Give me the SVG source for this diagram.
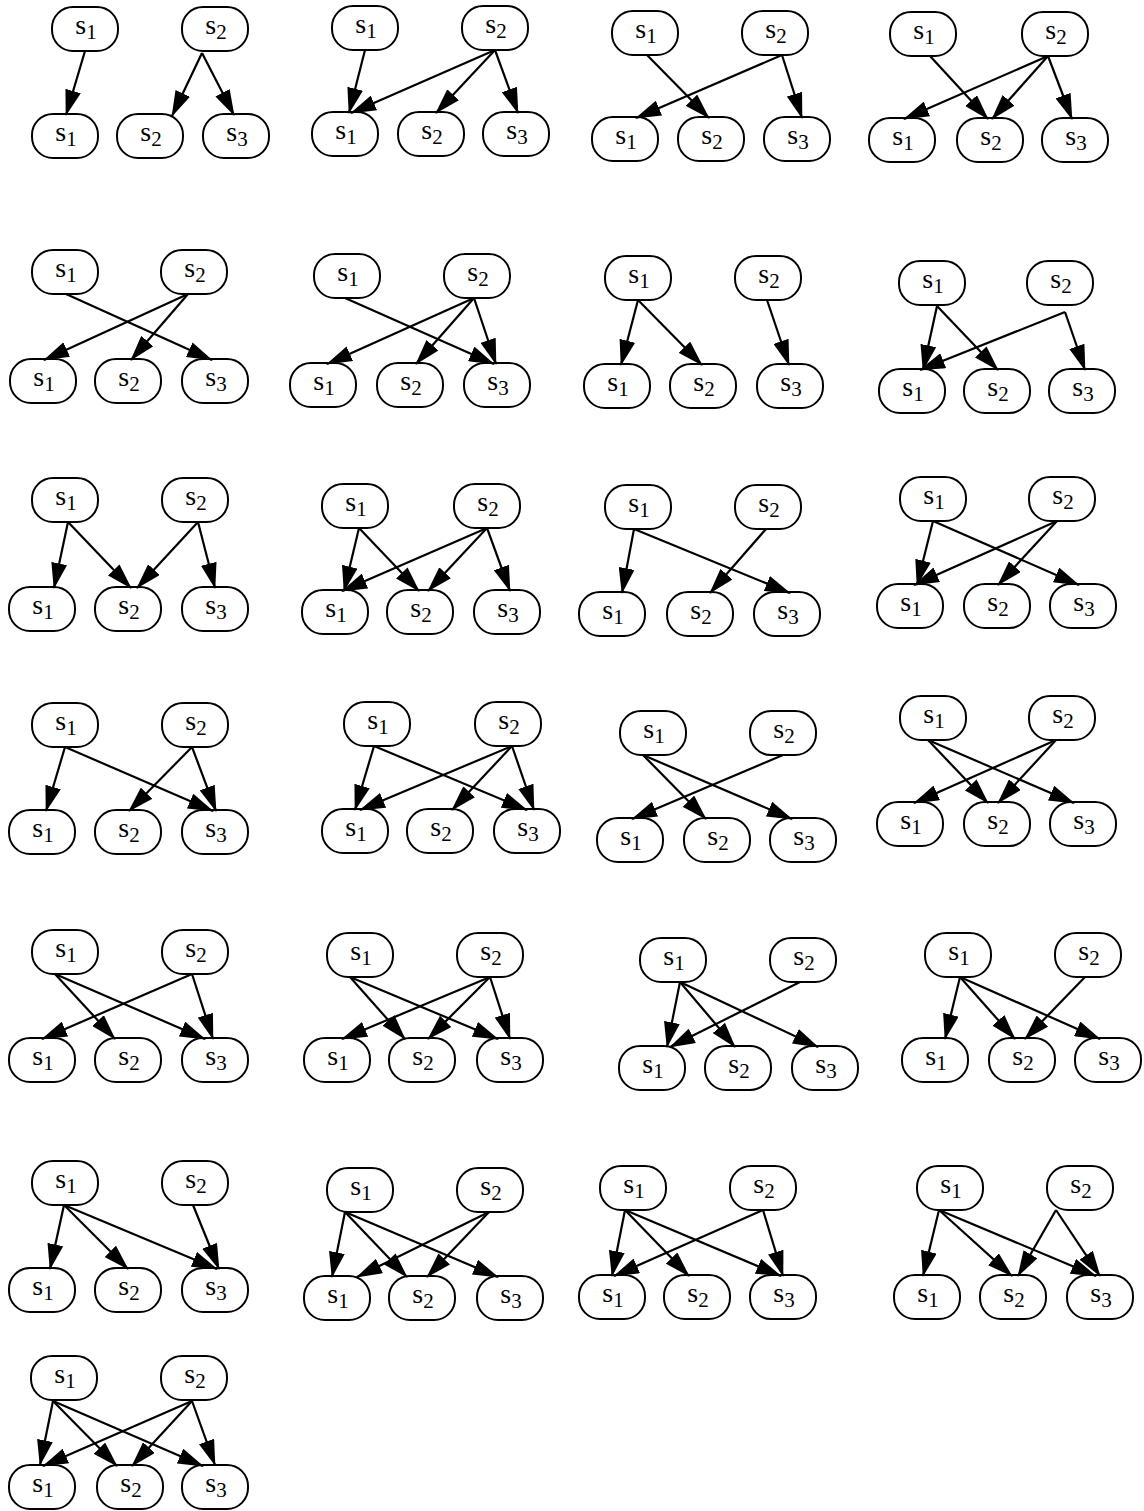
<svg xmlns="http://www.w3.org/2000/svg" width="1144" height="1511" viewBox="0 0 1144 1511">
<style>
.node rect{fill:#fff;stroke:#000;stroke-width:2}
.node text{font-family:"Liberation Serif","Times New Roman",serif;font-size:28px;text-anchor:middle;fill:#000}
.node tspan{font-size:21px}
#connectors line{stroke:#000;stroke-width:2.2;marker-end:url(#ah)}
</style>
<defs>
<marker id="ah" viewBox="0 0 26 16" refX="25" refY="8" markerWidth="26" markerHeight="16" markerUnits="userSpaceOnUse" orient="auto"><path d="M0,0 L26,8 L0,16 z" fill="#000"/></marker>
</defs>
<rect width="1144" height="1511" fill="#fff"/>
<g id="nodes">
<g id="n1-t1" class="node" transform="translate(85,29)"><rect x="-33" y="-22" width="66" height="44" rx="21"/><text x="1" y="5">s<tspan dy="5">1</tspan></text></g>
<g id="n1-t2" class="node" transform="translate(215,29)"><rect x="-33" y="-22" width="66" height="44" rx="21"/><text x="1" y="5">s<tspan dy="5">2</tspan></text></g>
<g id="n1-b1" class="node" transform="translate(65,136)"><rect x="-33" y="-22" width="66" height="44" rx="21"/><text x="1" y="5">s<tspan dy="5">1</tspan></text></g>
<g id="n1-b2" class="node" transform="translate(150,136)"><rect x="-33" y="-22" width="66" height="44" rx="21"/><text x="1" y="5">s<tspan dy="5">2</tspan></text></g>
<g id="n1-b3" class="node" transform="translate(236,136)"><rect x="-33" y="-22" width="66" height="44" rx="21"/><text x="1" y="5">s<tspan dy="5">3</tspan></text></g>

<g id="n2-t1" class="node" transform="translate(365,28)"><rect x="-33" y="-22" width="66" height="44" rx="21"/><text x="1" y="5">s<tspan dy="5">1</tspan></text></g>
<g id="n2-t2" class="node" transform="translate(495,28)"><rect x="-33" y="-22" width="66" height="44" rx="21"/><text x="1" y="5">s<tspan dy="5">2</tspan></text></g>
<g id="n2-b1" class="node" transform="translate(345,134)"><rect x="-33" y="-22" width="66" height="44" rx="21"/><text x="1" y="5">s<tspan dy="5">1</tspan></text></g>
<g id="n2-b2" class="node" transform="translate(431,134)"><rect x="-33" y="-22" width="66" height="44" rx="21"/><text x="1" y="5">s<tspan dy="5">2</tspan></text></g>
<g id="n2-b3" class="node" transform="translate(516,134)"><rect x="-33" y="-22" width="66" height="44" rx="21"/><text x="1" y="5">s<tspan dy="5">3</tspan></text></g>

<g id="n3-t1" class="node" transform="translate(645,33)"><rect x="-33" y="-22" width="66" height="44" rx="21"/><text x="1" y="5">s<tspan dy="5">1</tspan></text></g>
<g id="n3-t2" class="node" transform="translate(775,33)"><rect x="-33" y="-22" width="66" height="44" rx="21"/><text x="1" y="5">s<tspan dy="5">2</tspan></text></g>
<g id="n3-b1" class="node" transform="translate(625,139)"><rect x="-33" y="-22" width="66" height="44" rx="21"/><text x="1" y="5">s<tspan dy="5">1</tspan></text></g>
<g id="n3-b2" class="node" transform="translate(711,139)"><rect x="-33" y="-22" width="66" height="44" rx="21"/><text x="1" y="5">s<tspan dy="5">2</tspan></text></g>
<g id="n3-b3" class="node" transform="translate(797,139)"><rect x="-33" y="-22" width="66" height="44" rx="21"/><text x="1" y="5">s<tspan dy="5">3</tspan></text></g>

<g id="n4-t1" class="node" transform="translate(923,34)"><rect x="-33" y="-22" width="66" height="44" rx="21"/><text x="1" y="5">s<tspan dy="5">1</tspan></text></g>
<g id="n4-t2" class="node" transform="translate(1055,34)"><rect x="-33" y="-22" width="66" height="44" rx="21"/><text x="1" y="5">s<tspan dy="5">2</tspan></text></g>
<g id="n4-b1" class="node" transform="translate(902,140)"><rect x="-33" y="-22" width="66" height="44" rx="21"/><text x="1" y="5">s<tspan dy="5">1</tspan></text></g>
<g id="n4-b2" class="node" transform="translate(990,140)"><rect x="-33" y="-22" width="66" height="44" rx="21"/><text x="1" y="5">s<tspan dy="5">2</tspan></text></g>
<g id="n4-b3" class="node" transform="translate(1075,140)"><rect x="-33" y="-22" width="66" height="44" rx="21"/><text x="1" y="5">s<tspan dy="5">3</tspan></text></g>

<g id="n5-t1" class="node" transform="translate(65,272)"><rect x="-33" y="-22" width="66" height="44" rx="21"/><text x="1" y="5">s<tspan dy="5">1</tspan></text></g>
<g id="n5-t2" class="node" transform="translate(194,272)"><rect x="-33" y="-22" width="66" height="44" rx="21"/><text x="1" y="5">s<tspan dy="5">2</tspan></text></g>
<g id="n5-b1" class="node" transform="translate(43,381)"><rect x="-33" y="-22" width="66" height="44" rx="21"/><text x="1" y="5">s<tspan dy="5">1</tspan></text></g>
<g id="n5-b2" class="node" transform="translate(128,381)"><rect x="-33" y="-22" width="66" height="44" rx="21"/><text x="1" y="5">s<tspan dy="5">2</tspan></text></g>
<g id="n5-b3" class="node" transform="translate(215,381)"><rect x="-33" y="-22" width="66" height="44" rx="21"/><text x="1" y="5">s<tspan dy="5">3</tspan></text></g>

<g id="n6-t1" class="node" transform="translate(347,276)"><rect x="-33" y="-22" width="66" height="44" rx="21"/><text x="1" y="5">s<tspan dy="5">1</tspan></text></g>
<g id="n6-t2" class="node" transform="translate(477,276)"><rect x="-33" y="-22" width="66" height="44" rx="21"/><text x="1" y="5">s<tspan dy="5">2</tspan></text></g>
<g id="n6-b1" class="node" transform="translate(323,385)"><rect x="-33" y="-22" width="66" height="44" rx="21"/><text x="1" y="5">s<tspan dy="5">1</tspan></text></g>
<g id="n6-b2" class="node" transform="translate(410,385)"><rect x="-33" y="-22" width="66" height="44" rx="21"/><text x="1" y="5">s<tspan dy="5">2</tspan></text></g>
<g id="n6-b3" class="node" transform="translate(497,385)"><rect x="-33" y="-22" width="66" height="44" rx="21"/><text x="1" y="5">s<tspan dy="5">3</tspan></text></g>

<g id="n7-t1" class="node" transform="translate(638,278)"><rect x="-33" y="-22" width="66" height="44" rx="21"/><text x="1" y="5">s<tspan dy="5">1</tspan></text></g>
<g id="n7-t2" class="node" transform="translate(768,278)"><rect x="-33" y="-22" width="66" height="44" rx="21"/><text x="1" y="5">s<tspan dy="5">2</tspan></text></g>
<g id="n7-b1" class="node" transform="translate(617,386)"><rect x="-33" y="-22" width="66" height="44" rx="21"/><text x="1" y="5">s<tspan dy="5">1</tspan></text></g>
<g id="n7-b2" class="node" transform="translate(703,386)"><rect x="-33" y="-22" width="66" height="44" rx="21"/><text x="1" y="5">s<tspan dy="5">2</tspan></text></g>
<g id="n7-b3" class="node" transform="translate(790,386)"><rect x="-33" y="-22" width="66" height="44" rx="21"/><text x="1" y="5">s<tspan dy="5">3</tspan></text></g>

<g id="n8-t1" class="node" transform="translate(932,283)"><rect x="-33" y="-22" width="66" height="44" rx="21"/><text x="1" y="5">s<tspan dy="5">1</tspan></text></g>
<g id="n8-t2" class="node" transform="translate(1060,283)"><rect x="-33" y="-22" width="66" height="44" rx="21"/><text x="1" y="5">s<tspan dy="5">2</tspan></text></g>
<g id="n8-b1" class="node" transform="translate(912,391)"><rect x="-33" y="-22" width="66" height="44" rx="21"/><text x="1" y="5">s<tspan dy="5">1</tspan></text></g>
<g id="n8-b2" class="node" transform="translate(997,391)"><rect x="-33" y="-22" width="66" height="44" rx="21"/><text x="1" y="5">s<tspan dy="5">2</tspan></text></g>
<g id="n8-b3" class="node" transform="translate(1082,391)"><rect x="-33" y="-22" width="66" height="44" rx="21"/><text x="1" y="5">s<tspan dy="5">3</tspan></text></g>

<g id="n9-t1" class="node" transform="translate(65,500)"><rect x="-33" y="-22" width="66" height="44" rx="21"/><text x="1" y="5">s<tspan dy="5">1</tspan></text></g>
<g id="n9-t2" class="node" transform="translate(195,500)"><rect x="-33" y="-22" width="66" height="44" rx="21"/><text x="1" y="5">s<tspan dy="5">2</tspan></text></g>
<g id="n9-b1" class="node" transform="translate(42,609)"><rect x="-33" y="-22" width="66" height="44" rx="21"/><text x="1" y="5">s<tspan dy="5">1</tspan></text></g>
<g id="n9-b2" class="node" transform="translate(128,609)"><rect x="-33" y="-22" width="66" height="44" rx="21"/><text x="1" y="5">s<tspan dy="5">2</tspan></text></g>
<g id="n9-b3" class="node" transform="translate(215,609)"><rect x="-33" y="-22" width="66" height="44" rx="21"/><text x="1" y="5">s<tspan dy="5">3</tspan></text></g>

<g id="n10-t1" class="node" transform="translate(355,506)"><rect x="-33" y="-22" width="66" height="44" rx="21"/><text x="1" y="5">s<tspan dy="5">1</tspan></text></g>
<g id="n10-t2" class="node" transform="translate(487,506)"><rect x="-33" y="-22" width="66" height="44" rx="21"/><text x="1" y="5">s<tspan dy="5">2</tspan></text></g>
<g id="n10-b1" class="node" transform="translate(335,612)"><rect x="-33" y="-22" width="66" height="44" rx="21"/><text x="1" y="5">s<tspan dy="5">1</tspan></text></g>
<g id="n10-b2" class="node" transform="translate(420,612)"><rect x="-33" y="-22" width="66" height="44" rx="21"/><text x="1" y="5">s<tspan dy="5">2</tspan></text></g>
<g id="n10-b3" class="node" transform="translate(507,612)"><rect x="-33" y="-22" width="66" height="44" rx="21"/><text x="1" y="5">s<tspan dy="5">3</tspan></text></g>

<g id="n11-t1" class="node" transform="translate(638,507)"><rect x="-33" y="-22" width="66" height="44" rx="21"/><text x="1" y="5">s<tspan dy="5">1</tspan></text></g>
<g id="n11-t2" class="node" transform="translate(768,507)"><rect x="-33" y="-22" width="66" height="44" rx="21"/><text x="1" y="5">s<tspan dy="5">2</tspan></text></g>
<g id="n11-b1" class="node" transform="translate(612,614)"><rect x="-33" y="-22" width="66" height="44" rx="21"/><text x="1" y="5">s<tspan dy="5">1</tspan></text></g>
<g id="n11-b2" class="node" transform="translate(700,614)"><rect x="-33" y="-22" width="66" height="44" rx="21"/><text x="1" y="5">s<tspan dy="5">2</tspan></text></g>
<g id="n11-b3" class="node" transform="translate(787,614)"><rect x="-33" y="-22" width="66" height="44" rx="21"/><text x="1" y="5">s<tspan dy="5">3</tspan></text></g>

<g id="n12-t1" class="node" transform="translate(933,499)"><rect x="-33" y="-22" width="66" height="44" rx="21"/><text x="1" y="5">s<tspan dy="5">1</tspan></text></g>
<g id="n12-t2" class="node" transform="translate(1062,499)"><rect x="-33" y="-22" width="66" height="44" rx="21"/><text x="1" y="5">s<tspan dy="5">2</tspan></text></g>
<g id="n12-b1" class="node" transform="translate(910,606)"><rect x="-33" y="-22" width="66" height="44" rx="21"/><text x="1" y="5">s<tspan dy="5">1</tspan></text></g>
<g id="n12-b2" class="node" transform="translate(997,606)"><rect x="-33" y="-22" width="66" height="44" rx="21"/><text x="1" y="5">s<tspan dy="5">2</tspan></text></g>
<g id="n12-b3" class="node" transform="translate(1083,606)"><rect x="-33" y="-22" width="66" height="44" rx="21"/><text x="1" y="5">s<tspan dy="5">3</tspan></text></g>

<g id="n13-t1" class="node" transform="translate(65,725)"><rect x="-33" y="-22" width="66" height="44" rx="21"/><text x="1" y="5">s<tspan dy="5">1</tspan></text></g>
<g id="n13-t2" class="node" transform="translate(195,725)"><rect x="-33" y="-22" width="66" height="44" rx="21"/><text x="1" y="5">s<tspan dy="5">2</tspan></text></g>
<g id="n13-b1" class="node" transform="translate(42,832)"><rect x="-33" y="-22" width="66" height="44" rx="21"/><text x="1" y="5">s<tspan dy="5">1</tspan></text></g>
<g id="n13-b2" class="node" transform="translate(128,832)"><rect x="-33" y="-22" width="66" height="44" rx="21"/><text x="1" y="5">s<tspan dy="5">2</tspan></text></g>
<g id="n13-b3" class="node" transform="translate(215,832)"><rect x="-33" y="-22" width="66" height="44" rx="21"/><text x="1" y="5">s<tspan dy="5">3</tspan></text></g>

<g id="n14-t1" class="node" transform="translate(377,724)"><rect x="-33" y="-22" width="66" height="44" rx="21"/><text x="1" y="5">s<tspan dy="5">1</tspan></text></g>
<g id="n14-t2" class="node" transform="translate(508,724)"><rect x="-33" y="-22" width="66" height="44" rx="21"/><text x="1" y="5">s<tspan dy="5">2</tspan></text></g>
<g id="n14-b1" class="node" transform="translate(355,831)"><rect x="-33" y="-22" width="66" height="44" rx="21"/><text x="1" y="5">s<tspan dy="5">1</tspan></text></g>
<g id="n14-b2" class="node" transform="translate(440,831)"><rect x="-33" y="-22" width="66" height="44" rx="21"/><text x="1" y="5">s<tspan dy="5">2</tspan></text></g>
<g id="n14-b3" class="node" transform="translate(527,831)"><rect x="-33" y="-22" width="66" height="44" rx="21"/><text x="1" y="5">s<tspan dy="5">3</tspan></text></g>

<g id="n15-t1" class="node" transform="translate(653,733)"><rect x="-33" y="-22" width="66" height="44" rx="21"/><text x="1" y="5">s<tspan dy="5">1</tspan></text></g>
<g id="n15-t2" class="node" transform="translate(783,733)"><rect x="-33" y="-22" width="66" height="44" rx="21"/><text x="1" y="5">s<tspan dy="5">2</tspan></text></g>
<g id="n15-b1" class="node" transform="translate(630,840)"><rect x="-33" y="-22" width="66" height="44" rx="21"/><text x="1" y="5">s<tspan dy="5">1</tspan></text></g>
<g id="n15-b2" class="node" transform="translate(717,840)"><rect x="-33" y="-22" width="66" height="44" rx="21"/><text x="1" y="5">s<tspan dy="5">2</tspan></text></g>
<g id="n15-b3" class="node" transform="translate(803,840)"><rect x="-33" y="-22" width="66" height="44" rx="21"/><text x="1" y="5">s<tspan dy="5">3</tspan></text></g>

<g id="n16-t1" class="node" transform="translate(933,718)"><rect x="-33" y="-22" width="66" height="44" rx="21"/><text x="1" y="5">s<tspan dy="5">1</tspan></text></g>
<g id="n16-t2" class="node" transform="translate(1062,718)"><rect x="-33" y="-22" width="66" height="44" rx="21"/><text x="1" y="5">s<tspan dy="5">2</tspan></text></g>
<g id="n16-b1" class="node" transform="translate(910,824)"><rect x="-33" y="-22" width="66" height="44" rx="21"/><text x="1" y="5">s<tspan dy="5">1</tspan></text></g>
<g id="n16-b2" class="node" transform="translate(997,824)"><rect x="-33" y="-22" width="66" height="44" rx="21"/><text x="1" y="5">s<tspan dy="5">2</tspan></text></g>
<g id="n16-b3" class="node" transform="translate(1083,824)"><rect x="-33" y="-22" width="66" height="44" rx="21"/><text x="1" y="5">s<tspan dy="5">3</tspan></text></g>

<g id="n17-t1" class="node" transform="translate(65,952)"><rect x="-33" y="-22" width="66" height="44" rx="21"/><text x="1" y="5">s<tspan dy="5">1</tspan></text></g>
<g id="n17-t2" class="node" transform="translate(195,952)"><rect x="-33" y="-22" width="66" height="44" rx="21"/><text x="1" y="5">s<tspan dy="5">2</tspan></text></g>
<g id="n17-b1" class="node" transform="translate(42,1060)"><rect x="-33" y="-22" width="66" height="44" rx="21"/><text x="1" y="5">s<tspan dy="5">1</tspan></text></g>
<g id="n17-b2" class="node" transform="translate(128,1060)"><rect x="-33" y="-22" width="66" height="44" rx="21"/><text x="1" y="5">s<tspan dy="5">2</tspan></text></g>
<g id="n17-b3" class="node" transform="translate(215,1060)"><rect x="-33" y="-22" width="66" height="44" rx="21"/><text x="1" y="5">s<tspan dy="5">3</tspan></text></g>

<g id="n18-t1" class="node" transform="translate(360,955)"><rect x="-33" y="-22" width="66" height="44" rx="21"/><text x="1" y="5">s<tspan dy="5">1</tspan></text></g>
<g id="n18-t2" class="node" transform="translate(490,955)"><rect x="-33" y="-22" width="66" height="44" rx="21"/><text x="1" y="5">s<tspan dy="5">2</tspan></text></g>
<g id="n18-b1" class="node" transform="translate(337,1060)"><rect x="-33" y="-22" width="66" height="44" rx="21"/><text x="1" y="5">s<tspan dy="5">1</tspan></text></g>
<g id="n18-b2" class="node" transform="translate(422,1060)"><rect x="-33" y="-22" width="66" height="44" rx="21"/><text x="1" y="5">s<tspan dy="5">2</tspan></text></g>
<g id="n18-b3" class="node" transform="translate(510,1060)"><rect x="-33" y="-22" width="66" height="44" rx="21"/><text x="1" y="5">s<tspan dy="5">3</tspan></text></g>

<g id="n19-t1" class="node" transform="translate(673,960)"><rect x="-33" y="-22" width="66" height="44" rx="21"/><text x="1" y="5">s<tspan dy="5">1</tspan></text></g>
<g id="n19-t2" class="node" transform="translate(803,960)"><rect x="-33" y="-22" width="66" height="44" rx="21"/><text x="1" y="5">s<tspan dy="5">2</tspan></text></g>
<g id="n19-b1" class="node" transform="translate(652,1068)"><rect x="-33" y="-22" width="66" height="44" rx="21"/><text x="1" y="5">s<tspan dy="5">1</tspan></text></g>
<g id="n19-b2" class="node" transform="translate(738,1068)"><rect x="-33" y="-22" width="66" height="44" rx="21"/><text x="1" y="5">s<tspan dy="5">2</tspan></text></g>
<g id="n19-b3" class="node" transform="translate(825,1068)"><rect x="-33" y="-22" width="66" height="44" rx="21"/><text x="1" y="5">s<tspan dy="5">3</tspan></text></g>

<g id="n20-t1" class="node" transform="translate(958,955)"><rect x="-33" y="-22" width="66" height="44" rx="21"/><text x="1" y="5">s<tspan dy="5">1</tspan></text></g>
<g id="n20-t2" class="node" transform="translate(1088,955)"><rect x="-33" y="-22" width="66" height="44" rx="21"/><text x="1" y="5">s<tspan dy="5">2</tspan></text></g>
<g id="n20-b1" class="node" transform="translate(935,1060)"><rect x="-33" y="-22" width="66" height="44" rx="21"/><text x="1" y="5">s<tspan dy="5">1</tspan></text></g>
<g id="n20-b2" class="node" transform="translate(1022,1060)"><rect x="-33" y="-22" width="66" height="44" rx="21"/><text x="1" y="5">s<tspan dy="5">2</tspan></text></g>
<g id="n20-b3" class="node" transform="translate(1108,1060)"><rect x="-33" y="-22" width="66" height="44" rx="21"/><text x="1" y="5">s<tspan dy="5">3</tspan></text></g>

<g id="n21-t1" class="node" transform="translate(65,1183)"><rect x="-33" y="-22" width="66" height="44" rx="21"/><text x="1" y="5">s<tspan dy="5">1</tspan></text></g>
<g id="n21-t2" class="node" transform="translate(195,1183)"><rect x="-33" y="-22" width="66" height="44" rx="21"/><text x="1" y="5">s<tspan dy="5">2</tspan></text></g>
<g id="n21-b1" class="node" transform="translate(42,1290)"><rect x="-33" y="-22" width="66" height="44" rx="21"/><text x="1" y="5">s<tspan dy="5">1</tspan></text></g>
<g id="n21-b2" class="node" transform="translate(128,1290)"><rect x="-33" y="-22" width="66" height="44" rx="21"/><text x="1" y="5">s<tspan dy="5">2</tspan></text></g>
<g id="n21-b3" class="node" transform="translate(215,1290)"><rect x="-33" y="-22" width="66" height="44" rx="21"/><text x="1" y="5">s<tspan dy="5">3</tspan></text></g>

<g id="n22-t1" class="node" transform="translate(360,1190)"><rect x="-33" y="-22" width="66" height="44" rx="21"/><text x="1" y="5">s<tspan dy="5">1</tspan></text></g>
<g id="n22-t2" class="node" transform="translate(490,1190)"><rect x="-33" y="-22" width="66" height="44" rx="21"/><text x="1" y="5">s<tspan dy="5">2</tspan></text></g>
<g id="n22-b1" class="node" transform="translate(337,1298)"><rect x="-33" y="-22" width="66" height="44" rx="21"/><text x="1" y="5">s<tspan dy="5">1</tspan></text></g>
<g id="n22-b2" class="node" transform="translate(422,1298)"><rect x="-33" y="-22" width="66" height="44" rx="21"/><text x="1" y="5">s<tspan dy="5">2</tspan></text></g>
<g id="n22-b3" class="node" transform="translate(510,1298)"><rect x="-33" y="-22" width="66" height="44" rx="21"/><text x="1" y="5">s<tspan dy="5">3</tspan></text></g>

<g id="n23-t1" class="node" transform="translate(633,1188)"><rect x="-33" y="-22" width="66" height="44" rx="21"/><text x="1" y="5">s<tspan dy="5">1</tspan></text></g>
<g id="n23-t2" class="node" transform="translate(763,1188)"><rect x="-33" y="-22" width="66" height="44" rx="21"/><text x="1" y="5">s<tspan dy="5">2</tspan></text></g>
<g id="n23-b1" class="node" transform="translate(612,1297)"><rect x="-33" y="-22" width="66" height="44" rx="21"/><text x="1" y="5">s<tspan dy="5">1</tspan></text></g>
<g id="n23-b2" class="node" transform="translate(697,1297)"><rect x="-33" y="-22" width="66" height="44" rx="21"/><text x="1" y="5">s<tspan dy="5">2</tspan></text></g>
<g id="n23-b3" class="node" transform="translate(783,1297)"><rect x="-33" y="-22" width="66" height="44" rx="21"/><text x="1" y="5">s<tspan dy="5">3</tspan></text></g>

<g id="n24-t1" class="node" transform="translate(950,1188)"><rect x="-33" y="-22" width="66" height="44" rx="21"/><text x="1" y="5">s<tspan dy="5">1</tspan></text></g>
<g id="n24-t2" class="node" transform="translate(1080,1188)"><rect x="-33" y="-22" width="66" height="44" rx="21"/><text x="1" y="5">s<tspan dy="5">2</tspan></text></g>
<g id="n24-b1" class="node" transform="translate(927,1297)"><rect x="-33" y="-22" width="66" height="44" rx="21"/><text x="1" y="5">s<tspan dy="5">1</tspan></text></g>
<g id="n24-b2" class="node" transform="translate(1013,1297)"><rect x="-33" y="-22" width="66" height="44" rx="21"/><text x="1" y="5">s<tspan dy="5">2</tspan></text></g>
<g id="n24-b3" class="node" transform="translate(1100,1297)"><rect x="-33" y="-22" width="66" height="44" rx="21"/><text x="1" y="5">s<tspan dy="5">3</tspan></text></g>

<g id="n25-t1" class="node" transform="translate(64,1378)"><rect x="-33" y="-22" width="66" height="44" rx="21"/><text x="1" y="5">s<tspan dy="5">1</tspan></text></g>
<g id="n25-t2" class="node" transform="translate(194,1378)"><rect x="-33" y="-22" width="66" height="44" rx="21"/><text x="1" y="5">s<tspan dy="5">2</tspan></text></g>
<g id="n25-b1" class="node" transform="translate(42,1487)"><rect x="-33" y="-22" width="66" height="44" rx="21"/><text x="1" y="5">s<tspan dy="5">1</tspan></text></g>
<g id="n25-b2" class="node" transform="translate(130,1487)"><rect x="-33" y="-22" width="66" height="44" rx="21"/><text x="1" y="5">s<tspan dy="5">2</tspan></text></g>
<g id="n25-b3" class="node" transform="translate(215,1487)"><rect x="-33" y="-22" width="66" height="44" rx="21"/><text x="1" y="5">s<tspan dy="5">3</tspan></text></g>
</g>
<g id="connectors">
<line x1="85" y1="51" x2="66" y2="115"/>
<line x1="202" y1="53" x2="172" y2="116"/>
<line x1="202" y1="53" x2="234" y2="115"/>

<line x1="365" y1="50" x2="349" y2="113"/>
<line x1="495" y1="50" x2="351" y2="113"/>
<line x1="495" y1="50" x2="436" y2="113"/>
<line x1="495" y1="50" x2="518" y2="113"/>

<line x1="647" y1="55" x2="709" y2="118"/>
<line x1="782" y1="55" x2="636" y2="118"/>
<line x1="782" y1="55" x2="802" y2="118"/>

<line x1="930" y1="56" x2="988" y2="119"/>
<line x1="1048" y1="56" x2="904" y2="119"/>
<line x1="1048" y1="56" x2="992" y2="119"/>
<line x1="1048" y1="56" x2="1072" y2="119"/>

<line x1="66" y1="294" x2="212" y2="360"/>
<line x1="188" y1="294" x2="44" y2="360"/>
<line x1="188" y1="294" x2="131" y2="360"/>

<line x1="345" y1="298" x2="494" y2="364"/>
<line x1="474" y1="298" x2="327" y2="364"/>
<line x1="474" y1="298" x2="416" y2="364"/>
<line x1="474" y1="298" x2="496" y2="364"/>

<line x1="638" y1="300" x2="621" y2="365"/>
<line x1="638" y1="300" x2="702" y2="365"/>
<line x1="767" y1="300" x2="789" y2="365"/>

<line x1="937" y1="306" x2="923" y2="370"/>
<line x1="937" y1="306" x2="998" y2="370"/>
<line x1="1065" y1="312" x2="920" y2="370"/>
<line x1="1065" y1="312" x2="1085" y2="370"/>

<line x1="68" y1="522" x2="54" y2="588"/>
<line x1="68" y1="522" x2="131" y2="588"/>
<line x1="198" y1="522" x2="137" y2="588"/>
<line x1="198" y1="522" x2="215" y2="588"/>

<line x1="359" y1="528" x2="344" y2="591"/>
<line x1="359" y1="528" x2="419" y2="591"/>
<line x1="487" y1="528" x2="342" y2="591"/>
<line x1="487" y1="528" x2="428" y2="591"/>
<line x1="487" y1="528" x2="510" y2="591"/>

<line x1="634" y1="529" x2="622" y2="593"/>
<line x1="634" y1="529" x2="790" y2="593"/>
<line x1="766" y1="529" x2="710" y2="593"/>

<line x1="933" y1="521" x2="917" y2="585"/>
<line x1="933" y1="521" x2="1079" y2="585"/>
<line x1="1057" y1="521" x2="914" y2="585"/>
<line x1="1057" y1="521" x2="998" y2="585"/>

<line x1="65" y1="747" x2="46" y2="811"/>
<line x1="65" y1="747" x2="213" y2="811"/>
<line x1="192" y1="747" x2="129" y2="811"/>
<line x1="192" y1="747" x2="216" y2="811"/>

<line x1="374" y1="746" x2="355" y2="810"/>
<line x1="374" y1="746" x2="527" y2="810"/>
<line x1="512" y1="746" x2="360" y2="810"/>
<line x1="512" y1="746" x2="452" y2="810"/>
<line x1="512" y1="746" x2="534" y2="810"/>

<line x1="643" y1="755" x2="706" y2="819"/>
<line x1="643" y1="755" x2="792" y2="819"/>
<line x1="783" y1="755" x2="632" y2="819"/>

<line x1="928" y1="740" x2="988" y2="803"/>
<line x1="928" y1="740" x2="1074" y2="803"/>
<line x1="1056" y1="740" x2="914" y2="803"/>
<line x1="1056" y1="740" x2="998" y2="803"/>

<line x1="55" y1="974" x2="115" y2="1039"/>
<line x1="55" y1="974" x2="205" y2="1039"/>
<line x1="192" y1="974" x2="42" y2="1039"/>
<line x1="192" y1="974" x2="213" y2="1039"/>

<line x1="350" y1="977" x2="405" y2="1039"/>
<line x1="350" y1="977" x2="498" y2="1039"/>
<line x1="490" y1="977" x2="342" y2="1039"/>
<line x1="490" y1="977" x2="428" y2="1039"/>
<line x1="490" y1="977" x2="510" y2="1039"/>

<line x1="680" y1="982" x2="667" y2="1047"/>
<line x1="680" y1="982" x2="735" y2="1047"/>
<line x1="680" y1="982" x2="818" y2="1047"/>
<line x1="800" y1="982" x2="670" y2="1047"/>

<line x1="960" y1="977" x2="945" y2="1039"/>
<line x1="960" y1="977" x2="1015" y2="1039"/>
<line x1="960" y1="977" x2="1100" y2="1039"/>
<line x1="1085" y1="977" x2="1025" y2="1039"/>

<line x1="64" y1="1205" x2="50" y2="1269"/>
<line x1="64" y1="1205" x2="128" y2="1269"/>
<line x1="64" y1="1205" x2="217" y2="1269"/>
<line x1="193" y1="1205" x2="219" y2="1269"/>

<line x1="345" y1="1212" x2="332" y2="1277"/>
<line x1="345" y1="1212" x2="407" y2="1277"/>
<line x1="345" y1="1212" x2="498" y2="1277"/>
<line x1="489" y1="1212" x2="357" y2="1277"/>
<line x1="489" y1="1212" x2="427" y2="1277"/>

<line x1="625" y1="1210" x2="612" y2="1276"/>
<line x1="625" y1="1210" x2="689" y2="1276"/>
<line x1="625" y1="1210" x2="781" y2="1276"/>
<line x1="763" y1="1210" x2="614" y2="1276"/>
<line x1="763" y1="1210" x2="783" y2="1276"/>

<line x1="939" y1="1210" x2="923" y2="1276"/>
<line x1="939" y1="1210" x2="1012" y2="1276"/>
<line x1="939" y1="1210" x2="1096" y2="1276"/>
<line x1="1056" y1="1210" x2="1018" y2="1276"/>
<line x1="1056" y1="1210" x2="1100" y2="1276"/>

<line x1="53" y1="1401" x2="40" y2="1465"/>
<line x1="53" y1="1401" x2="117" y2="1466"/>
<line x1="53" y1="1401" x2="203" y2="1466"/>
<line x1="192" y1="1401" x2="43" y2="1466"/>
<line x1="192" y1="1401" x2="132" y2="1466"/>
<line x1="192" y1="1401" x2="215" y2="1465"/>
</g>
</svg>
